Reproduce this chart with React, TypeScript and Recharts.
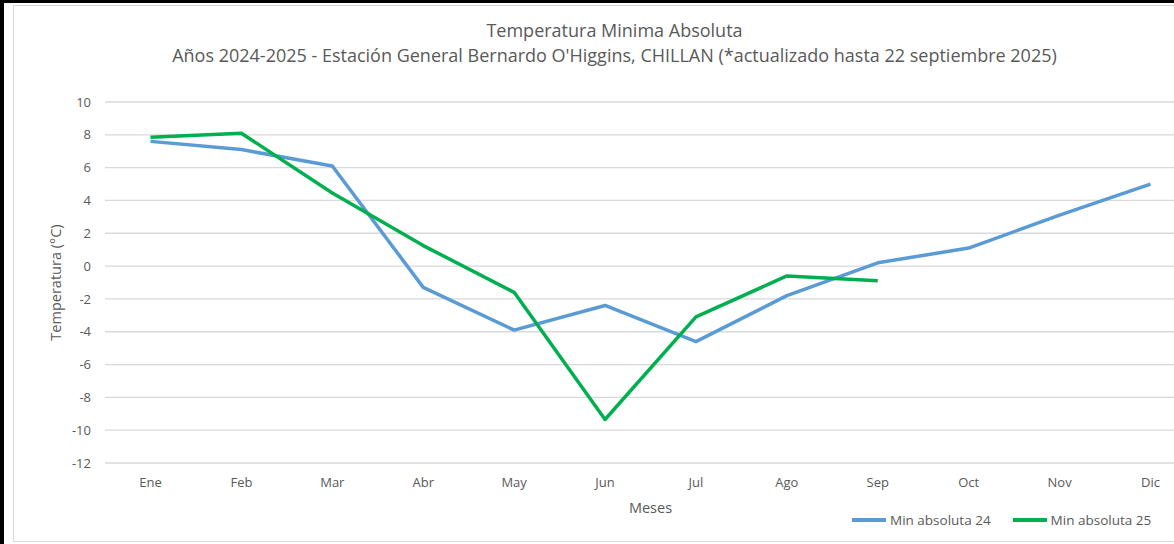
import React from 'react';
import { LineChart, Line, XAxis, YAxis, CartesianGrid } from 'recharts';

const MONTHS = ['Ene', 'Feb', 'Mar', 'Abr', 'May', 'Jun', 'Jul', 'Ago', 'Sep', 'Oct', 'Nov', 'Dic'];
const MIN_24 = [7.6, 7.1, 6.1, -1.3, -3.9, -2.4, -4.6, -1.8, 0.2, 1.1, 3.1, 5.0];
const MIN_25: (number | null)[] = [7.85, 8.1, 4.45, 1.25, -1.6, -9.35, -3.1, -0.6, -0.9, null, null, null];
const Y_TICKS = [-12, -10, -8, -6, -4, -2, 0, 2, 4, 6, 8, 10];

const FONT = '"Open Sans", "Noto Sans", sans-serif';
const TEXT = '#595959';
const BLUE = '#5B9BD5';
const GREEN = '#00B050';

const data = MONTHS.map((m, i) => ({ mes: m, min24: MIN_24[i], min25: MIN_25[i] }));

export default function App() {
  return (
    <div style={{ position: 'absolute', left: 0, top: 0, width: 1174, height: 544, background: '#fff', overflow: 'hidden' }}>
      <div style={{ position: 'absolute', left: 0, top: 0, width: 4, height: 544, background: '#000' }} />
      <div style={{ position: 'absolute', left: 0, top: 0, width: 1174, height: 3, background: '#000' }} />
      <div
        style={{
          position: 'absolute', left: 13, top: 5, width: 1203, height: 537,
          border: '1px solid #d9d9d9', boxSizing: 'border-box',
        }}
      >
        <div style={{ position: 'absolute', left: 0, top: 12, width: '100%', textAlign: 'center', fontFamily: FONT, fontSize: 18, color: TEXT }}>
          Temperatura Minima Absoluta
        </div>
        <div style={{ position: 'absolute', left: 0, top: 37, width: '100%', textAlign: 'center', fontFamily: FONT, fontSize: 18, color: TEXT }}>
          Años 2024-2025 - Estación General Bernardo O'Higgins, CHILLAN (*actualizado hasta 22 septiembre 2025)
        </div>
        <LineChart
          width={1201}
          height={535}
          data={data}
          margin={{ top: 96, right: 19, bottom: 0, left: 0 }}
          style={{ fontFamily: FONT }}
        >
          <CartesianGrid vertical={false} stroke="#d9d9d9" strokeWidth={1.3} />
          <XAxis
            dataKey="mes"
            axisLine={false}
            tickLine={false}
            tickSize={0}
            tickMargin={15}
            height={78}
            padding={{ left: 45.5, right: 45.5 }}
            tick={{ fill: TEXT, fontSize: 13 }}
            label={{ value: 'Meses', position: 'center', dy: 6, fill: TEXT, fontSize: 14.5 }}
          />
          <YAxis
            domain={[-12, 10]}
            ticks={Y_TICKS}
            interval={0}
            axisLine={false}
            tickLine={false}
            tickSize={0}
            tickMargin={14}
            width={91}
            tick={{ fill: TEXT, fontSize: 13 }}
            label={{ value: 'Temperatura (°C)', angle: -90, position: 'center', dx: -4, fill: TEXT, fontSize: 14.5 }}
          />
          <Line
            dataKey="min24"
            name="Min absoluta 24"
            stroke={BLUE}
            strokeWidth={3.5}
            dot={false}
            isAnimationActive={false}
            strokeLinejoin="round"
          />
          <Line
            dataKey="min25"
            name="Min absoluta 25"
            stroke={GREEN}
            strokeWidth={3.5}
            dot={false}
            isAnimationActive={false}
            strokeLinejoin="round"
          />
        </LineChart>
        <div
          style={{
            position: 'absolute', left: 838, top: 505, display: 'flex', alignItems: 'center',
            fontFamily: FONT, fontSize: 13.5, color: TEXT, whiteSpace: 'nowrap',
          }}
        >
          <span style={{ width: 34, height: 4, background: BLUE, marginRight: 4 }} />
          <span style={{ marginRight: 22 }}>Min absoluta 24</span>
          <span style={{ width: 34, height: 4, background: GREEN, marginRight: 4 }} />
          <span>Min absoluta 25</span>
        </div>
      </div>
    </div>
  );
}
